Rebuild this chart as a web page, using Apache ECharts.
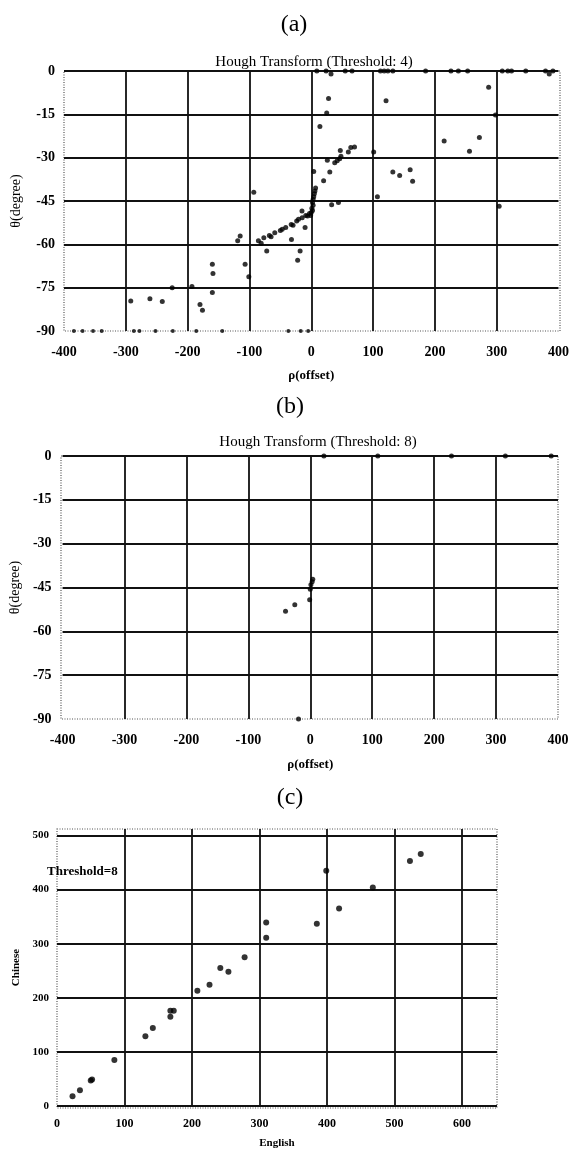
<!DOCTYPE html>
<html><head><meta charset="utf-8">
<script src="https://cdn.jsdelivr.net/npm/echarts@6/dist/echarts.min.js"></script>
<style>html,body{margin:0;padding:0;background:#fff}#c{width:572px;height:1150px}</style>
</head><body><div id="c"></div>
<script>
// ---------- data ----------
const panelLabels = ['(a)', '(b)', '(c)'];
const titleA = 'Hough Transform (Threshold: 4)';
const titleB = 'Hough Transform (Threshold: 8)';
const noteC = 'Threshold=8';
const rhoName = 'ρ(offset)';
const thetaName = 'θ(degree)';
const engName = 'English';
const chiName = 'Chinese';
const rhoRange = [-400, 400, 100];
const thetaRange = [-90, 0, 15];
const engRange = [0, 652, 100];
const chiRange = [0, 512, 100];

// panel (a): [rho, theta]
const aTopRow = [[9,0],[24,0],[32,-1],[55,0],[66,0],[112,0],[118,0],[124,0],[132,0],[185,0],[226,0],[238,0],[253,0],[309,0],[318,0],[324,0],[347,0],[379,0],[385,-1],[391,0]];
const aUpper = [[28,-9.5],[121,-10.3],[287,-5.6],[25,-14.5],[298,-15.2],[14,-19.2],[215,-24.2],[272,-23],[256,-27.8],[101,-28],[47,-27.5],[64,-26.5],[70,-26.3],[60,-28],[48,-29.5],[26,-30.9],[38,-31.8],[42,-31.1],[46,-30.4],[4,-34.8],[30,-35],[20,-38],[132,-35],[143,-36.2],[160,-34.2],[164,-38.2],[-93,-42],[107,-43.5],[33,-46.3],[44,-45.5],[304,-46.8]];
const aCluster = [[7,-40.5],[6,-41.5],[5,-42.5],[4,-43.5],[3,-44.5],[2,-45.5],[3,-46.5],[1,-47.5],[2,-48.3],[0,-49],[-1,-50]];
const aLine = [[-85.5,-58.8],[-81,-59.6],[-76.7,-57.7],[-67.8,-56.9],[-65,-57.4],[-59,-56],[-50,-55.2],[-47,-54.8],[-41.3,-54.2],[-32.4,-53.1],[-29.5,-53.4],[-23.6,-51.9],[-20.6,-51.3],[-14.7,-50.8],[-8.8,-50],[-6,-50.2],[-2.9,-49.3]];
const aLower = [[-119,-58.8],[-115,-57.1],[-72,-62.3],[-32,-58.3],[-10,-54.2],[-18,-62.3],[-22,-65.5],[-15,-48.5],[-107,-66.9],[-101,-71.2],[-160,-66.9],[-159,-70.1],[-160,-76.7],[-225,-75],[-193,-74.6],[-292,-79.6],[-261,-78.8],[-241,-79.8],[-180,-80.8],[-176,-82.8]];
const aBottomRow = [[-384,-90],[-370,-90],[-353,-90],[-339,-90],[-287,-90],[-278,-90],[-252,-90],[-224,-90],[-186,-90],[-144,-90],[-37,-90],[-17,-90],[-5,-90]];

// panel (b)
const bPoints = [[22,0],[109,0],[228,0],[315,0],[389,0],[4,-42.2],[3,-43],[1,-44.1],[0,-45.6],[-1,-49.2],[-25,-50.9],[-40,-53.1],[-19,-90]];

// panel (c): [English, Chinese]
const cPoints = [[23,18],[34,29],[50,47],[52,49],[85,85],[131,129],[142,144],[168,165],[168,176],[173,176],[208,213],[226,224],[242,255],[254,248],[278,275],[310,311],[310,339],[385,337],[418,365],[399,435],[468,404],[523,453],[539,466]];

// ---------- chart ----------
const FONT = 'Liberation Serif';
const grids = [
  {left: 64, top: 71, width: 496, height: 260},
  {left: 61, top: 456, width: 497, height: 263},
  {left: 57, top: 829, width: 440, height: 279}
];
const splitStyle = {color: '#111', width: 1.8};

function xAx(i, range, name, gap, fs, nfs, showMaxLabel) {
  return {
    type: 'value', gridIndex: i, min: range[0], max: range[1], interval: range[2],
    name: name, nameLocation: 'middle', nameGap: gap,
    nameTextStyle: {fontFamily: FONT, fontSize: nfs, fontWeight: 'bold', color: '#000'},
    axisLine: {show: false}, axisTick: {show: false},
    axisLabel: {fontFamily: FONT, fontSize: fs, fontWeight: 'bold', color: '#000', margin: i === 2 ? 12 : 14, showMaxLabel: showMaxLabel, showMinLabel: true},
    splitLine: {show: true, lineStyle: splitStyle, showMinLine: false, showMaxLine: false}
  };
}
function yAx(i, range, name, gap, fs, minLine, maxLine, margin) {
  return {
    type: 'value', gridIndex: i, min: range[0], max: range[1], interval: range[2],
    name: name, nameLocation: 'middle', nameGap: gap, nameRotate: 90,
    nameTextStyle: {fontFamily: FONT, fontSize: fs, fontWeight: i === 2 ? 'bold' : 'normal', color: '#000'},
    axisLine: {show: false}, axisTick: {show: false},
    axisLabel: {fontFamily: FONT, fontSize: fs, fontWeight: 'bold', color: '#000', margin: margin, showMaxLabel: maxLine},
    splitLine: {show: true, lineStyle: splitStyle, showMinLine: minLine, showMaxLine: maxLine}
  };
}
function sc(i, data, size) {
  return {type: 'scatter', xAxisIndex: i, yAxisIndex: i, data: data, symbolSize: size, clip: false,
    itemStyle: {color: '#000'}, silent: true};
}
function border(g) {
  return {type: 'rect', shape: {x: g.left, y: g.top, width: g.width, height: g.height}, z: 0,
    style: {fill: null, stroke: '#555', lineWidth: 1.2, lineDash: [1, 1.5]}};
}
function txt(x, y, t, fs, fw) {
  return {type: 'text', x: x, y: y, style: {text: t, fontFamily: FONT, fontSize: fs, fontWeight: fw || 'normal', fill: '#000', textAlign: 'center', textVerticalAlign: 'middle'}};
}

const option = {
  animation: false,
  backgroundColor: '#fff',
  grid: grids,
  xAxis: [xAx(0, rhoRange, rhoName, 38, 14, 13, true), xAx(1, rhoRange, rhoName, 39, 14, 13, true), xAx(2, engRange, engName, 32, 12, 11, false)],
  yAxis: [yAx(0, thetaRange, thetaName, 41, 14, false, true, 9), yAx(1, thetaRange, thetaName, 39, 14, false, true, 11), yAx(2, chiRange, chiName, 35, 11, true, false, 8)],
  series: [
    sc(0, aTopRow, 5), sc(0, aUpper, 5), sc(0, aCluster, 5), sc(0, aLine, 5), sc(0, aLower, 5), sc(0, aBottomRow, 4),
    sc(1, bPoints, 5),
    sc(2, cPoints, 6)
  ],
  graphic: [
    border(grids[0]), border(grids[1]), border(grids[2]),
    txt(294, 25, panelLabels[0], 24), txt(314, 62, titleA, 15),
    txt(290, 407, panelLabels[1], 24), txt(318, 442, titleB, 15),
    txt(290, 798, panelLabels[2], 24),
    {type: 'text', x: 47, y: 872, z: 10, style: {text: noteC, fontFamily: FONT, fontSize: 13, fontWeight: 'bold', fill: '#000', textAlign: 'left', textVerticalAlign: 'middle'}}
  ]
};
const chart = echarts.init(document.getElementById('c'), null, {renderer: 'canvas'});
chart.setOption(option);
</script>
</body></html>
